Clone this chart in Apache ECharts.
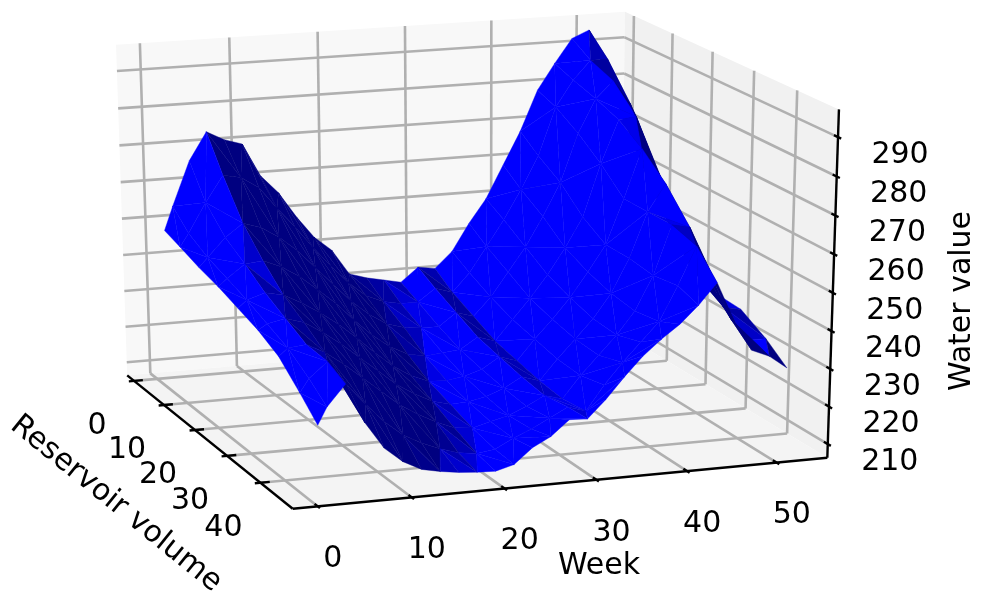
<!DOCTYPE html>
<html><head><meta charset="utf-8">
<style>html,body{margin:0;padding:0;background:#fff}#c{width:981px;height:592px}</style>
<script src="https://cdn.jsdelivr.net/npm/echarts@6/dist/echarts.min.js"></script>
</head><body><div id="c"></div>
<script>
const weeks=[1,2,4,6,8,10,12,14,16,18,20,22,24,26,28,30,32,34,36,38,40,42,44,46,48,50,52];
const volumes=[1,6,12,18,24,30,36,42,47];
const value_r0=[248,254.5,266.5,274,271.5,270,261,256,249,243,239,232,230.5,229.5,228.5,232.3,231.6,236,243.5,250,259,268,279,286,292.5,294.5,286];
const value_r6=[246.5,250,258,265,264,261,255,249.5,243.5,238,233,229,227,226,226,229.5,228,233,240,247,255,264,277,284,289,289,272];
const value_r12=[244.5,247,252,255.5,254,251,247,242,237,232,228,225,223.5,223,223,226.5,225,230,236.5,243,251,260,273,282,286.5,280,260];
const value_r18=[243,245,248.5,249,247,244,240,236,231,226.5,223,220.5,219.5,220,220.5,223.5,222,227.5,233,239,246,254,268,279.5,280,268,250];
const value_r24=[241,243,244.5,243.5,241,238,234.5,230.5,226,222,219,217,216.8,217.5,219,222,220.5,226,231,236.5,243,250,262,275,268,252,241];
const value_r30=[239,240.5,241.5,240,237,233.5,229.5,225.5,221.5,218.5,216,214.8,215,216,217.8,220.5,219,224.5,229.5,234.5,241,250,262,269,256,243,238.5];
const value_r36=[236,238,238.5,236,232.5,228.5,224.5,220.5,217.5,215,213,212.5,213.8,215,217,219.5,218.2,224,229,234,240,249,262,261,248,239,238];
const value_r42=[230.5,234,238,231.5,226,221,217,214.5,212.5,211,210.3,211,213.5,215.5,218,220.5,219,225.5,231,236,241,250,260,251,240,234,234];
const value_r47=[225.5,230,235.5,225,218,214,211.5,210.5,209.8,209.4,209.2,210.5,214.5,217,221,220.8,225.5,231,236,240,243.5,248,253.5,243,235,233,229.5];
const valueRows=[value_r0,value_r6,value_r12,value_r18,value_r24,value_r30,value_r36,value_r42,value_r47];

const weekTicks=[0,10,20,30,40,50];
const volumeTicks=[0,10,20,30,40];
const valueTicks=[210,220,230,240,250,260,270,280,290];

// axis box limits
const XL=[-2.65,55.7],YL=[-2.35,49.35],ZL=[206.3,297];
// camera fit: box corners (x,y,z as 0/1) and where they sit on the page
const fit=[[0,0,0,127,375],[0,0,1,116,45],[1,0,0,621,333],[1,0,1,625,12],[1,1,0,827,458],[1,1,1,839,109],[0,1,0,293,509]];
function solve(A,b){const n=b.length;for(let i=0;i<n;i++){let m=i;for(let k=i+1;k<n;k++)if(Math.abs(A[k][i])>Math.abs(A[m][i]))m=k;[A[i],A[m]]=[A[m],A[i]];[b[i],b[m]]=[b[m],b[i]];for(let k=i+1;k<n;k++){const f=A[k][i]/A[i][i];for(let j=i;j<n;j++)A[k][j]-=f*A[i][j];b[k]-=f*b[i];}}const x=new Array(n);for(let i=n-1;i>=0;i--){let s=b[i];for(let j=i+1;j<n;j++)s-=A[i][j]*x[j];x[i]=s/A[i][i];}return x;}
const P=(function(){const rows=[],rhs=[];fit.forEach(f=>{const [X,Y,Z,u0,v0]=f,u=u0/1000,v=v0/1000;rows.push([X,Y,Z,1,0,0,0,0,-u*X,-u*Y,-u*Z]);rhs.push(u);rows.push([0,0,0,0,X,Y,Z,1,-v*X,-v*Y,-v*Z]);rhs.push(v);});
const n=11,A=[],b=[];for(let i=0;i<n;i++){A.push(new Array(n).fill(0));b.push(0);rows.forEach((r,k)=>{for(let j=0;j<n;j++)A[i][j]+=r[i]*r[j];b[i]+=r[i]*rhs[k];});}return solve(A,b);})();
function norm(x,y,z){return [(x-XL[0])/(XL[1]-XL[0]),(y-YL[0])/(YL[1]-YL[0]),(z-ZL[0])/(ZL[1]-ZL[0])];}
function depthOf(x,y,z){const n=norm(x,y,z);return P[8]*n[0]+P[9]*n[1]+P[10]*n[2]+1;}
function proj(x,y,z){const n=norm(x,y,z),w=P[8]*n[0]+P[9]*n[1]+P[10]*n[2]+1;return [1000*(P[0]*n[0]+P[1]*n[1]+P[2]*n[2]+P[3])/w,1000*(P[4]*n[0]+P[5]*n[1]+P[6]*n[2]+P[7])/w];}

// triangles
const L=[-0.667,-0.667,0.333];
const farSign=depthOf(XL[1],YL[0],250)>depthOf(XL[0],YL[1],250)?1:-1;
const tris=[];
for(let j=0;j<volumes.length-1;j++)for(let i=0;i<weeks.length-1;i++){
  const p=(a,b)=>[weeks[a],volumes[b],valueRows[b][a]];
  const A=p(i,j),B=p(i+1,j),C=p(i+1,j+1),D=p(i,j+1);
  const pair=(i+j)%2?[[A,B,C],[A,C,D]]:[[A,B,D],[B,C,D]];
  pair.forEach(t=>{
    const u=[t[1][0]-t[0][0],t[1][1]-t[0][1],t[1][2]-t[0][2]],v=[t[2][0]-t[0][0],t[2][1]-t[0][1],t[2][2]-t[0][2]];
    let n=[u[1]*v[2]-u[2]*v[1],u[2]*v[0]-u[0]*v[2],u[0]*v[1]-u[1]*v[0]];
    if(n[2]<0)n=n.map(q=>-q);
    const m=Math.hypot(n[0],n[1],n[2]),s=(n[0]*L[0]+n[1]*L[1]+n[2]*L[2])/m;
    const b=Math.max(0.5,Math.min(1,0.92+0.8*s));
    const d=(depthOf(...t[0])+depthOf(...t[1])+depthOf(...t[2]))/3*farSign;
    tris.push({t,b,d});
  });
}
tris.sort((a,b)=>b.d-a.d);

const FONT='30px "DejaVu Sans"';
const GRID='#b0b0b0';
function seg(api,a,b,color,w){const p=api.coord(proj(...a)),q=api.coord(proj(...b));return {type:'line',shape:{x1:p[0],y1:p[1],x2:q[0],y2:q[1]},style:{stroke:color,lineWidth:w,lineCap:'butt'}};}
function poly(api,pts,fill,edge){const s={fill};if(edge){s.stroke=fill;s.lineWidth=edge;}return {type:'polygon',shape:{points:pts.map(p=>api.coord(proj(...p)))},style:s};}
function text(api,s,pos,rot){const p=api.coord(pos);return {type:'text',x:p[0],y:p[1],rotation:rot||0,style:{text:s,font:FONT,fill:'#000',align:'center',verticalAlign:'middle'}};}
function labelAt(t,dx,dy){const p=proj(...t);return [p[0]+dx,p[1]+dy];}

const [x0,x1]=XL,[y0,y1]=YL,[z0,z1]=ZL;
function boxItem(params,api){
  const ch=[];
  ch.push(poly(api,[[x0,y0,z0],[x1,y0,z0],[x1,y0,z1],[x0,y0,z1]],'#f8f8f8'));
  ch.push(poly(api,[[x1,y0,z0],[x1,y1,z0],[x1,y1,z1],[x1,y0,z1]],'#f1f1f1'));
  ch.push(poly(api,[[x0,y0,z0],[x1,y0,z0],[x1,y1,z0],[x0,y1,z0]],'#f4f4f4'));
  weekTicks.forEach(w=>{ch.push(seg(api,[w,y1,z0],[w,y0,z0],GRID,2.6));ch.push(seg(api,[w,y0,z0],[w,y0,z1],GRID,2.6));});
  volumeTicks.forEach(r=>{ch.push(seg(api,[x0,r,z0],[x1,r,z0],GRID,2.6));ch.push(seg(api,[x1,r,z0],[x1,r,z1],GRID,2.6));});
  valueTicks.forEach(z=>{ch.push(seg(api,[x0,y0,z],[x1,y0,z],GRID,2.6));ch.push(seg(api,[x1,y0,z],[x1,y1,z],GRID,2.6));});
  ch.push(seg(api,[x0,y1,z0],[x1,y1,z0],'#000',2.4));
  ch.push(seg(api,[x0,y0,z0],[x0,y1,z0],'#000',2.4));
  ch.push(seg(api,[x1,y1,z0],[x1,y1,z1],'#000',2.4));
  weekTicks.forEach(w=>ch.push(seg(api,[w,y1-0.9,z0],[w,y1+0.6,z0],'#000',2.4)));
  volumeTicks.forEach(r=>ch.push(seg(api,[x0-0.6,r,z0],[x0+1.0,r,z0],'#000',2.4)));
  valueTicks.forEach(z=>ch.push(seg(api,[x1,y1-0.9,z],[x1,y1+0.7,z],'#000',2.4)));
  return {type:'group',children:ch};
}
function labelItem(params,api){
  const ch=[];
  weekTicks.forEach(w=>ch.push(text(api,String(w),labelAt([w,y1,z0],15,53))));
  volumeTicks.forEach(r=>ch.push(text(api,String(r),labelAt([x0,r,z0],-37,45))));
  valueTicks.forEach(z=>ch.push(text(api,String(z),labelAt([x1,y1,z],62,18))));
  ch.push(text(api,'Week',[599,566]));
  ch.push(text(api,'Water value',[962,301],Math.PI/2));
  ch.push(text(api,'Reservoir volume',[116,504],-0.68));
  return {type:'group',children:ch};
}
function triItem(params,api){
  const k=tris[params.dataIndex];
  return poly(api,k.t,'rgb(0,0,'+Math.round(255*k.b)+')',0.4);
}
const chart=echarts.init(document.getElementById('c'),null,{renderer:'canvas'});
chart.setOption({
  animation:false,
  grid:{left:0,right:0,top:0,bottom:0},
  xAxis:{type:'value',min:0,max:981,show:false},
  yAxis:{type:'value',min:0,max:592,inverse:true,show:false},
  tooltip:{show:false},
  series:[
    {type:'custom',name:'box',data:[[0,0]],renderItem:boxItem,clip:false,silent:true},
    {type:'custom',name:'Water value',data:tris.map(k=>[k.t[0][0],k.t[0][1],k.t[0][2]]),renderItem:triItem,clip:false,silent:true,progressive:0},
    {type:'custom',name:'labels',data:[[0,0]],renderItem:labelItem,clip:false,silent:true}
  ]
});
</script></body></html>
